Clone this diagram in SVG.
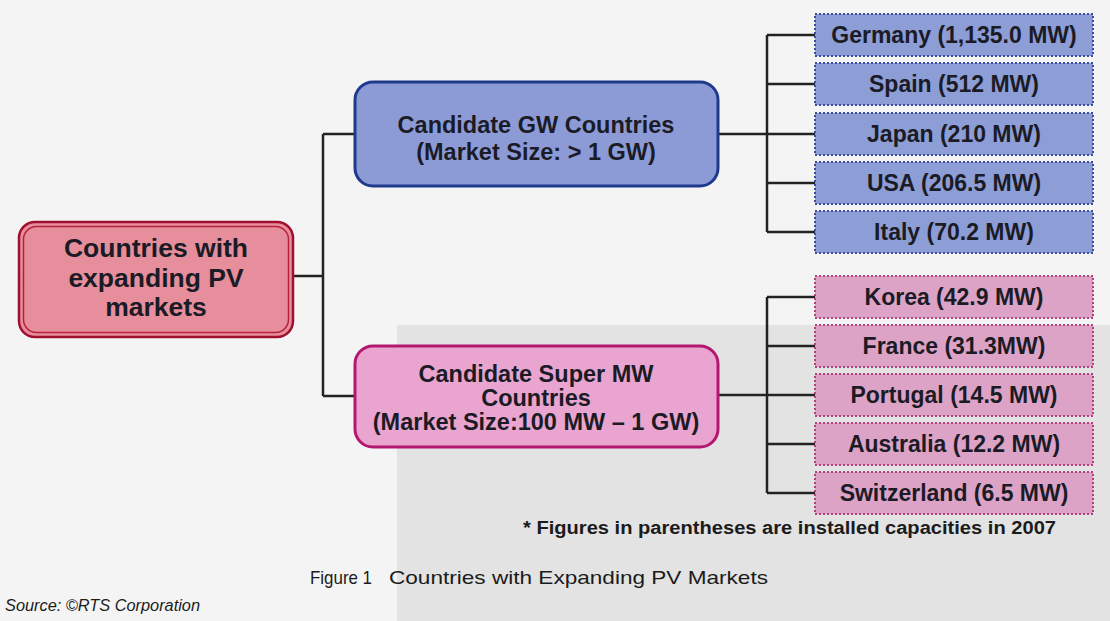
<svg xmlns="http://www.w3.org/2000/svg" width="1110" height="621" viewBox="0 0 1110 621">
  <style>
    .t { font-family: "Liberation Sans", Arial, sans-serif; font-weight: bold; fill: #1b1b26; text-anchor: middle; }
    .leaf { font-size: 23px; }
    .mid { font-size: 23.5px; }
    .root { font-size: 26.5px; }
    .blue { fill: #8d9dd5; stroke: #3a4c9e; stroke-width: 2; stroke-dasharray: 2 2; }
    .pink { fill: #dca3c7; stroke: #b3417e; stroke-width: 2; stroke-dasharray: 2 2; }
    .conn path { fill: none; stroke: #222; stroke-width: 2.5; }
    .cap { font-family: "Liberation Sans Narrow", "Liberation Sans", Arial, sans-serif; fill: #1b1b1b; }
  </style>
  <rect x="0" y="0" width="1110" height="621" fill="#f4f4f4"/>
  <rect x="397" y="325" width="713" height="296" fill="#e3e3e3"/>

  <g class="conn" id="connectors">
    <path d="M293 276 H323 M323 134 V396 M323 134 H355 M323 396 H355"/>
    <path d="M718 134 H815 M767 35 V232 M767 35 H815 M767 84 H815 M767 183 H815 M767 232 H815"/>
    <path d="M718 395 H815 M767 297 V493 M767 297 H815 M767 346 H815 M767 444 H815 M767 493 H815"/>
  </g>

  <g id="root">
    <rect x="19" y="222" width="274" height="115" rx="16" fill="#e78e9c" stroke="#a0102e" stroke-width="2.5"/>
    <rect x="23.5" y="226.5" width="265" height="106" rx="13" fill="none" stroke="#b4203e" stroke-width="1.5"/>
    <text class="t root" x="156" y="257">Countries with</text>
    <text class="t root" x="156" y="287">expanding PV</text>
    <text class="t root" x="156" y="316">markets</text>
  </g>

  <g id="gw">
    <rect x="355" y="82" width="363" height="104" rx="18" fill="#8c9bd6" stroke="#1f3a8c" stroke-width="3"/>
    <text class="t mid" x="536" y="133">Candidate GW Countries</text>
    <text class="t mid" x="536" y="160">(Market Size: &gt; 1 GW)</text>
  </g>

  <g id="supermw">
    <rect x="355" y="346" width="363" height="101" rx="18" fill="#e9a5cf" stroke="#b3186e" stroke-width="3"/>
    <text class="t mid" x="536" y="382">Candidate Super MW</text>
    <text class="t mid" x="536" y="406">Countries</text>
    <text class="t mid" x="536" y="430">(Market Size:100 MW – 1 GW)</text>
  </g>

  <g id="germany"><rect class="blue" x="815" y="14" width="278" height="42"/><text class="t leaf" x="954" y="43">Germany (1,135.0 MW)</text></g>
  <g id="spain"><rect class="blue" x="815" y="63" width="278" height="42"/><text class="t leaf" x="954" y="92">Spain (512 MW)</text></g>
  <g id="japan"><rect class="blue" x="815" y="113" width="278" height="42"/><text class="t leaf" x="954" y="142">Japan (210 MW)</text></g>
  <g id="usa"><rect class="blue" x="815" y="162" width="278" height="42"/><text class="t leaf" x="954" y="191">USA (206.5 MW)</text></g>
  <g id="italy"><rect class="blue" x="815" y="211" width="278" height="42"/><text class="t leaf" x="954" y="240">Italy (70.2 MW)</text></g>

  <g id="korea"><rect class="pink" x="815" y="276" width="278" height="42"/><text class="t leaf" x="954" y="305">Korea (42.9 MW)</text></g>
  <g id="france"><rect class="pink" x="815" y="325" width="278" height="42"/><text class="t leaf" x="954" y="354">France (31.3MW)</text></g>
  <g id="portugal"><rect class="pink" x="815" y="374" width="278" height="42"/><text class="t leaf" x="954" y="403">Portugal (14.5 MW)</text></g>
  <g id="australia"><rect class="pink" x="815" y="423" width="278" height="42"/><text class="t leaf" x="954" y="452">Australia (12.2 MW)</text></g>
  <g id="switzerland"><rect class="pink" x="815" y="472" width="278" height="42"/><text class="t leaf" x="954" y="501">Switzerland (6.5 MW)</text></g>

  <text x="523" y="534" font-family="Liberation Sans, Arial, sans-serif" font-size="18" font-weight="bold" fill="#1b1b1b" textLength="533" lengthAdjust="spacingAndGlyphs">* Figures in parentheses are installed capacities in 2007</text>
  <text class="cap" x="310" y="584" font-size="19" textLength="62" lengthAdjust="spacingAndGlyphs">Figure 1</text>
  <text class="cap" x="389" y="584" font-size="19" textLength="379" lengthAdjust="spacingAndGlyphs">Countries with Expanding PV Markets</text>
  <text class="cap" x="5" y="611" font-size="16" font-style="italic" textLength="195" lengthAdjust="spacingAndGlyphs">Source: ©RTS Corporation</text>
</svg>
